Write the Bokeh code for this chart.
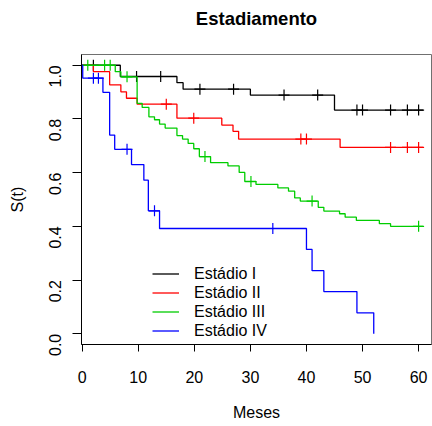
import math
from bokeh.plotting import figure
from bokeh.models import Range1d, FixedTicker, PrintfTickFormatter, Legend, LegendItem
from bokeh.embed import file_html
from bokeh.resources import INLINE

# ---- data ----
labels = ["Estádio I", "Estádio II", "Estádio III", "Estádio IV"]
colors = ["black", "red", "#00CD00", "blue"]

t_I = [6.8, 16.9, 18.0, 30.0, 45.0]
s_I = [0.958, 0.935, 0.911, 0.889, 0.833]
c_I = [2.0, 9.7, 14.0, 21.0, 27.0, 36.0, 42.0, 49.0, 50.0, 55.0, 58.0, 60.0]
end_I = 60.8

t_II = [2.0, 4.9, 6.9, 7.9, 9.8, 16.9, 24.9, 26.9, 27.9, 46.0]
s_II = [0.976, 0.927, 0.901, 0.877, 0.855, 0.803, 0.777, 0.754, 0.725, 0.694]
c_II = [15.0, 19.9, 39.0, 40.0, 55.0, 58.0, 60.0]
end_II = 60.8

t_III = [5.9, 6.9, 9.8, 10.7, 11.9, 12.9, 13.8, 14.8, 16.9, 17.9, 18.9, 19.9, 20.9,
         22.9, 26.0, 28.0, 29.0, 31.0, 34.9, 36.8, 37.9, 38.9, 42.1, 43.1, 45.9,
         46.9, 48.9, 53.0, 55.0]
s_III = [0.976, 0.957, 0.858, 0.843, 0.808, 0.797, 0.781, 0.766, 0.738, 0.725, 0.709,
         0.689, 0.660, 0.637, 0.625, 0.601, 0.567, 0.556, 0.543, 0.531, 0.506, 0.494,
         0.471, 0.457, 0.447, 0.434, 0.422, 0.410, 0.400]
c_III = [1.0, 4.0, 5.0, 8.0, 21.9, 30.1, 41.0, 60.0]
end_III = 60.8

t_IV = [0.1, 3.7, 4.9, 5.8, 8.8, 11.0, 11.8, 13.8, 40.0, 41.0, 43.1, 49.0, 52.0]
s_IV = [0.952, 0.899, 0.740, 0.687, 0.630, 0.572, 0.458, 0.392, 0.314, 0.235,
        0.157, 0.078, 0.0]
c_IV = [2.0, 2.9, 8.0, 12.9, 34.0]
end_IV = 52.0

x_ticks = [0, 10, 20, 30, 40, 50, 60]
y_ticks = [0.0, 0.2, 0.4, 0.6, 0.8, 1.0]
title_text = "Estadiamento"

series = [(t_I, s_I, c_I, end_I), (t_II, s_II, c_II, end_II),
          (t_III, s_III, c_III, end_III), (t_IV, s_IV, c_IV, end_IV)]

FONT = "Liberation Sans"

p = figure(width=432, height=426, output_backend="svg", toolbar_location=None,
           x_range=Range1d(-0.12, 62.3), y_range=Range1d(-0.04, 1.04),
           min_border_left=81, min_border_right=1, min_border_top=54,
           min_border_bottom=82)

p.background_fill_color = "white"
p.border_fill_color = "white"
p.outline_line_color = "#707070"
p.xgrid.visible = False
p.ygrid.visible = False

# second (blank) line lifts the title away from the frame
p.title.text = title_text + "\n "
p.title.align = "center"
p.title.vertical_align = "bottom"
p.title.text_font = FONT
p.title.text_font_size = "18.5px"
p.title.text_font_style = "bold"
p.title.text_color = "black"
p.title.text_line_height = 1.0
p.title.standoff = 10

for ax in (p.xaxis[0], p.yaxis[0]):
    ax.axis_line_color = "black"
    ax.major_tick_line_color = "black"
    ax.minor_tick_line_color = None
    ax.major_tick_in = 0
    ax.major_label_text_font = FONT
    ax.major_label_text_font_size = "16px"
    ax.major_label_text_color = "black"
    ax.axis_label_text_font = FONT
    ax.axis_label_text_font_size = "16px"
    ax.axis_label_text_font_style = "normal"
    ax.axis_label_text_color = "black"

p.xaxis.ticker = FixedTicker(ticks=x_ticks)
p.xaxis.major_tick_out = 7
p.xaxis.major_label_standoff = 19
p.xaxis.axis_label = "Meses"
p.xaxis.axis_label_standoff = 18

p.yaxis.ticker = FixedTicker(ticks=y_ticks)
p.yaxis.formatter = PrintfTickFormatter(format="%.1f")
p.yaxis.major_tick_out = 9
p.yaxis.major_label_orientation = math.pi / 2
p.yaxis.major_label_standoff = 17
p.yaxis.axis_label = "S(t)"
p.yaxis.axis_label_standoff = 15

items = []
for (t, s, c, end), col, lab in zip(series, colors, labels):
    xs = [0.0] + list(t)
    ys = [1.0] + list(s)
    if end > xs[-1]:
        xs.append(end)
        ys.append(ys[-1])
    r = p.step(xs, ys, mode="after", line_color=col, line_width=1.3)
    # censor marks at survival value at censor time
    cy = []
    for ct in c:
        val = 1.0
        for tt, ss in zip(t, s):
            if tt <= ct:
                val = ss
        cy.append(val)
    p.scatter(c, cy, marker="cross", size=11, line_color=col, line_width=1.2)
    items.append(LegendItem(label=lab, renderers=[r]))

legend = Legend(items=items, location=(71, 4), background_fill_alpha=0,
                border_line_alpha=0, padding=0, margin=0, spacing=0,
                glyph_width=27, glyph_height=19, label_height=19,
                label_standoff=15, label_text_font=FONT,
                label_text_font_size="16px", label_text_color="black")
p.add_layout(legend)

open("out.html", "w").write(file_html(p, INLINE))
